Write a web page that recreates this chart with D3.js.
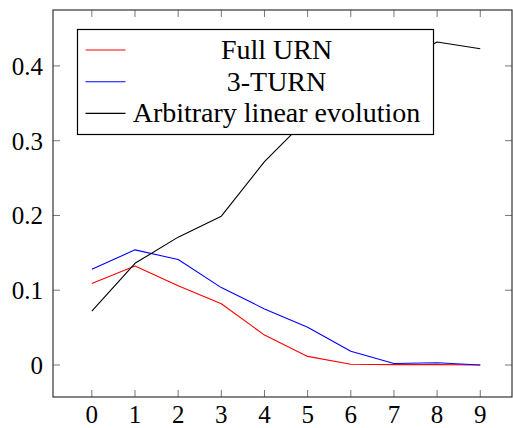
<!DOCTYPE html>
<html>
<head>
<meta charset="utf-8">
<script src="https://cdn.jsdelivr.net/npm/d3@7"></script>
</head>
<body style="margin:0">
<svg id="chart" width="513" height="428" font-family="Liberation Serif"></svg>
<script>
// data
var steps = [0, 1, 2, 3, 4, 5, 6, 7, 8, 9];
var fullUrn = [0.109, 0.1325, 0.106, 0.082, 0.040, 0.0115, 0.001, 0.0005, 0.0005, 0.0];
var turn3 = [0.128, 0.154, 0.141, 0.1035, 0.0750, 0.0505, 0.0183, 0.002, 0.003, 0.0];
var linearEvo = [0.072, 0.136, 0.171, 0.199, 0.272, 0.330, 0.370, 0.402, 0.432, 0.423];
var seriesNames = ["Full URN", "3-TURN", "Arbitrary linear evolution"];
var seriesColors = ["#ff0000", "#0000ff", "#000000"];
var yTicks = [0, 0.1, 0.2, 0.3, 0.4];

var margin = { top: 10, left: 53, bottom: 31, right: 1 };
var width = 513 - margin.left - margin.right;
var height = 428 - margin.top - margin.bottom;

var root = d3.select("#chart");
var svg = root.append("g")
    .attr("transform", "translate(" + margin.left + "," + margin.top + ")");

var xScale = d3.scaleLinear().domain([-0.9, 9.735]).range([0, width]);
var yScale = d3.scaleLinear().domain([-0.0428, 0.4748]).range([height, 0]);

var tickLen = 7;

// ticks on all four sides, pointing inward
var tickG = svg.append("g").attr("stroke", "#777").attr("stroke-width", 1);
steps.forEach(function(s) {
    tickG.append("line").attr("x1", xScale(s)).attr("x2", xScale(s)).attr("y1", height).attr("y2", height - tickLen);
    tickG.append("line").attr("x1", xScale(s)).attr("x2", xScale(s)).attr("y1", 0).attr("y2", tickLen);
});
yTicks.forEach(function(t) {
    tickG.append("line").attr("x1", 0).attr("x2", tickLen).attr("y1", yScale(t)).attr("y2", yScale(t));
    tickG.append("line").attr("x1", width).attr("x2", width - tickLen).attr("y1", yScale(t)).attr("y2", yScale(t));
});

// lines
var line = d3.line()
    .x((d, i) => xScale(steps[i]))
    .y(d => yScale(d));

[fullUrn, turn3, linearEvo].forEach(function(vals, i) {
    svg.append("path")
        .attr("d", line(vals))
        .attr("fill", "none")
        .attr("stroke", seriesColors[i])
        .attr("stroke-width", 1.1)
        .attr("stroke-linejoin", "round");
});

// frame
svg.append("rect")
    .attr("x", 0).attr("y", 0)
    .attr("width", width).attr("height", height)
    .attr("fill", "none")
    .attr("stroke", "#333")
    .attr("stroke-width", 1.2);

// tick labels (appended straight on the svg root)
steps.forEach(function(d) {
    root.append("text")
        .attr("x", margin.left + xScale(d))
        .attr("y", margin.top + height + 26)
        .attr("text-anchor", "middle")
        .attr("font-family", "Liberation Serif")
        .style("font-family", "'Liberation Serif'")
        .style("font-size", "25px")
        .text(String(d));
});

yTicks.forEach(function(d) {
    root.append("text")
        .attr("x", margin.left - 10)
        .attr("y", margin.top + yScale(d) + 9)
        .attr("text-anchor", "end")
        .attr("font-family", "Liberation Serif")
        .style("font-family", "'Liberation Serif'")
        .style("font-size", "25px")
        .text(String(d));
});

// legend
var lx = 77.5, ly = 29.5;
root.append("rect")
    .attr("x", lx).attr("y", ly)
    .attr("width", 356).attr("height", 105)
    .attr("fill", "#fff")
    .attr("stroke", "#000")
    .attr("stroke-width", 1.2);

seriesNames.forEach(function(name, i) {
    var y = ly + 20.5 + i * 31.7;
    root.append("line")
        .attr("x1", lx + 8).attr("x2", lx + 48)
        .attr("y1", y).attr("y2", y)
        .attr("stroke", seriesColors[i])
        .attr("stroke-width", 1.1);
    root.append("text")
        .attr("x", lx + 199)
        .attr("y", y + 9)
        .attr("text-anchor", "middle")
        .attr("font-family", "Liberation Serif")
        .style("font-family", "'Liberation Serif'")
        .style("font-size", "28px")
        .text(name);
});
</script>
</body>
</html>
